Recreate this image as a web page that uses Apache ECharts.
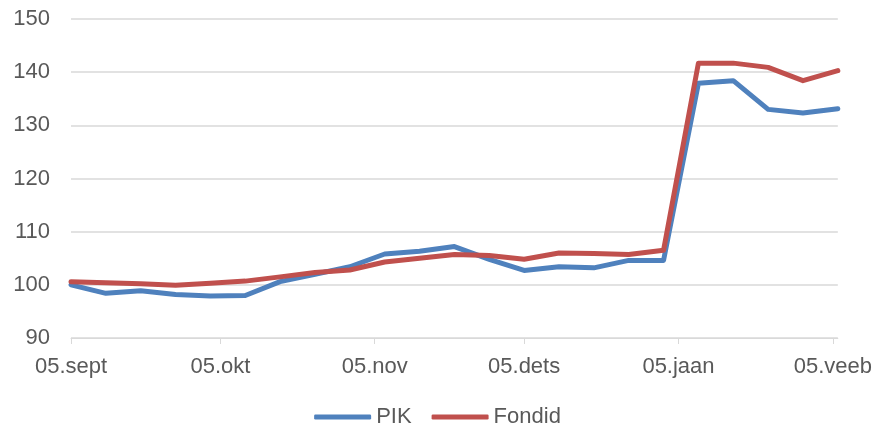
<!DOCTYPE html>
<html>
<head>
<meta charset="utf-8">
<script src="https://cdn.jsdelivr.net/npm/echarts@6/dist/echarts.min.js"></script>
<style>html,body{margin:0;padding:0;background:#fff}#c{width:875px;height:427px}</style>
</head>
<body>
<div id="c"></div>
<script>
const dates = ["2016-09-05","2016-09-12","2016-09-19","2016-09-26","2016-10-03","2016-10-10","2016-10-17","2016-10-24","2016-10-31","2016-11-07","2016-11-14","2016-11-21","2016-11-28","2016-12-05","2016-12-12","2016-12-19","2016-12-26","2017-01-02","2017-01-09","2017-01-16","2017-01-23","2017-01-30","2017-02-06"];
const pik    = [100.0, 98.4, 98.9, 98.2, 97.9, 98.0, 100.6, 102.0, 103.4, 105.8, 106.3, 107.2, 104.8, 102.7, 103.4, 103.2, 104.6, 104.6, 137.9, 138.4, 133.0, 132.3, 133.1];
const fondid = [100.6, 100.4, 100.2, 99.9, 100.3, 100.7, 101.5, 102.3, 102.8, 104.3, 105.0, 105.7, 105.5, 104.8, 106.0, 105.9, 105.7, 106.5, 141.7, 141.7, 140.9, 138.4, 140.3];
const tickDates = ["2016-09-05","2016-10-05","2016-11-05","2016-12-05","2017-01-05","2017-02-05"];
const tickLabels = ["05.sept","05.okt","05.nov","05.dets","05.jaan","05.veeb"];
const seriesNames = ["PIK","Fondid"];

// day offsets from the first date (a date axis, as in the original)
function dayNo(s){const p=s.split('-').map(Number);return Math.round(Date.UTC(p[0],p[1]-1,p[2])/86400000);}
const d0 = dayNo(dates[0]);
const xDays = dates.map(d=>dayNo(d)-d0);
const tickDays = tickDates.map(d=>dayNo(d)-d0);
const labelOf = {};
tickDays.forEach((t,i)=>labelOf[t]=tickLabels[i]);

const chart = echarts.init(document.getElementById('c'), null, {renderer:'canvas'});
const font = '"Liberation Sans", Arial, sans-serif';
chart.setOption({
  animation:false,
  grid:{left:71,right:37,top:19,bottom:89,containLabel:false},
  legend:{
    top:401, left:'center',
    icon:'roundRect', itemWidth:57, itemHeight:5, itemGap:20,
    textStyle:{fontFamily:font,fontSize:22,color:'#595959'},
    data:seriesNames
  },
  xAxis:{
    type:'value',
    min:0, max:xDays[xDays.length-1],
    axisLine:{lineStyle:{color:'#d9d9d9',width:1}},
    axisTick:{show:true,length:6,inside:false,lineStyle:{color:'#d9d9d9'},customValues:tickDays},
    axisLabel:{customValues:tickDays,fontFamily:font,fontSize:22,color:'#595959',margin:18,
      showMinLabel:true,showMaxLabel:true,
      formatter:function(v){return labelOf[Math.round(v)]||'';}},
    splitLine:{show:false}
  },
  yAxis:{
    type:'value', min:90, max:150, interval:10,
    axisLine:{show:false}, axisTick:{show:false},
    axisLabel:{fontFamily:font,fontSize:22,color:'#595959',margin:21},
    splitLine:{lineStyle:{color:'#d9d9d9',width:1.5}}
  },
  series:[
    {name:seriesNames[0],type:'line',symbol:'none',data:xDays.map((x,i)=>[x,pik[i]]),
     itemStyle:{color:'#4f81bd'},lineStyle:{color:'#4f81bd',width:5,cap:'round',join:'round'}},
    {name:seriesNames[1],type:'line',symbol:'none',data:xDays.map((x,i)=>[x,fondid[i]]),
     itemStyle:{color:'#c0504d'},lineStyle:{color:'#c0504d',width:5,cap:'round',join:'round'}}
  ]
});
</script>
</body>
</html>
